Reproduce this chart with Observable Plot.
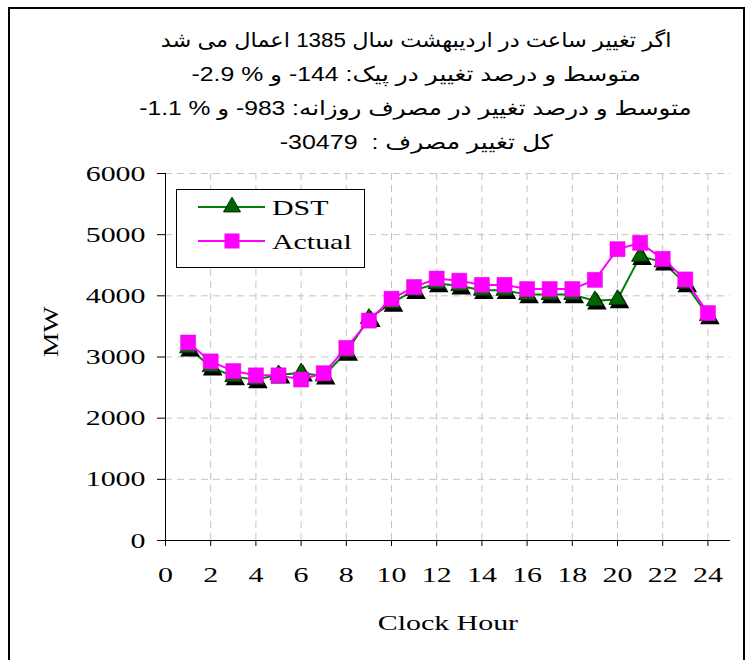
<!DOCTYPE html>
<html><head><meta charset="utf-8">
<script src="https://cdn.jsdelivr.net/npm/d3@7"></script>
<script src="https://cdn.jsdelivr.net/npm/@observablehq/plot@0.6"></script>
<style>
body{margin:0;background:#fff;}
#wrap{position:relative;width:751px;height:660px;overflow:hidden;background:#fff;}
#frame{position:absolute;left:8px;top:7px;width:737px;height:720px;border:2px solid #000;box-sizing:border-box;}
#title{position:absolute;left:116px;width:600px;top:23px;text-align:center;font-family:"Liberation Sans","DejaVu Sans",sans-serif;font-size:20px;line-height:34px;color:#000;}
#title span{display:inline-block;white-space:pre;}
#chart{position:absolute;left:0;top:160px;}
#legend{position:absolute;left:176px;top:189px;}
</style>
</head><body>
<div id="wrap">
  <div id="frame"></div>
  <div id="title"></div>
  <div id="chart"></div>
  <div id="legend"></div>
</div>
<script>
// ---- data ----
const titleLines = [
  "اگر تغییر ساعت در اردیبهشت سال 1385 اعمال می شد",
  "متوسط و درصد تغییر در پیک: 144- و % 2.9-",
  "متوسط و درصد تغییر در مصرف روزانه: 983- و % 1.1-",
  "کل تغییر مصرف :  30479-"
];
const hours = [1,2,3,4,5,6,7,8,9,10,11,12,13,14,15,16,17,18,19,20,21,22,23,24];
const dst = [3150,2840,2680,2630,2710,2740,2690,3080,3630,3880,4090,4200,4165,4090,4090,4020,4020,4020,3920,3940,4645,4555,4200,3675];
const actual = [3237,2928,2770,2700,2700,2632,2735,3148,3595,3952,4144,4282,4247,4179,4179,4110,4110,4110,4261,4763,4866,4605,4268,3718];
const xTicks = [0,2,4,6,8,10,12,14,16,18,20,22,24];
const yTicks = [0,1000,2000,3000,4000,5000,6000];
const seriesNames = ["DST", "Actual"];
const xLabel = "Clock Hour";
const yLabel = "MW";

// ---- title (the reference's text is drawn horizontally wide) ----
const titleStretch = [1.12, 1.24, 1.23, 1.25];
const t = document.getElementById("title");
titleLines.forEach((s, i) => {
  const d = document.createElement("div");
  const sp = document.createElement("span");
  sp.setAttribute("dir", "rtl");
  sp.textContent = s;
  sp.style.transform = `scaleX(${titleStretch[i]})`;
  d.appendChild(sp);
  t.appendChild(d);
});

const rows = hours.map((h, i) => ({h, dst: dst[i], actual: actual[i]}));
const green = "#008000", magenta = "#FF00FF";
const gridColor = "#c4c4c4";

const chart = Plot.plot({
  width: 751, height: 500,
  marginTop: 13, marginBottom: 120, marginLeft: 165, marginRight: 21,
  style: {fontFamily: "'Liberation Serif', 'Times New Roman', serif", fontSize: "22px", color: "#000", background: "transparent", overflow: "visible"},
  x: {domain: [0, 25], ticks: xTicks, tickSize: 6, tickPadding: 20, label: null, tickFormat: d => String(d)},
  y: {domain: [0, 6000], ticks: yTicks, tickSize: 8, tickPadding: 12, label: null, tickFormat: d => String(d)},
  marks: [
    Plot.ruleY(yTicks.slice(1), {x1: 0, x2: 25, stroke: gridColor, strokeWidth: 1, strokeDasharray: "7,5"}),
    Plot.ruleX(xTicks.slice(1), {y1: 0, y2: 6000, stroke: gridColor, strokeWidth: 1, strokeDasharray: "7,5"}),
    Plot.ruleY([0], {x1: -0.35, x2: 25, stroke: "#000", strokeWidth: 1}),
    Plot.ruleX([0], {y1: -80, y2: 6000, stroke: "#000", strokeWidth: 1}),
    Plot.line(rows, {x: "h", y: "dst", stroke: green, strokeWidth: 2}),
    Plot.dot(rows, {x: "h", y: "dst", symbol: "triangle", r: 6.3, fill: "#000", stroke: "#000", dx: 2, dy: 3}),
    Plot.dot(rows, {x: "h", y: "dst", symbol: "triangle", r: 6.3, fill: "#006400", stroke: "#003000", strokeWidth: 1}),
    Plot.line(rows, {x: "h", y: "actual", stroke: magenta, strokeWidth: 2}),
    Plot.dot(rows, {x: "h", y: "actual", symbol: "square", r: 8.5, fill: magenta, stroke: "#e000e0", strokeWidth: 0.5}),
    Plot.text([xLabel], {text: d => d, frameAnchor: "bottom", dy: 82, lineAnchor: "middle", fontSize: 22}),
    Plot.text([yLabel], {text: d => d, frameAnchor: "left", dx: -115, rotate: -90, lineAnchor: "middle", fontSize: 22})
  ]
});
document.getElementById("chart").appendChild(chart);

// stretch text horizontally about its anchor, as in the reference
function stretch(root, fn) {
  root.querySelectorAll("text").forEach(el => {
    const s = fn(el);
    const bb = el.getBBox();
    const anchor = getComputedStyle(el).textAnchor;
    const ax = anchor === "end" ? bb.x + bb.width : anchor === "middle" ? bb.x + bb.width / 2 : bb.x;
    const old = el.getAttribute("transform") || "";
    el.setAttribute("transform", `${old} translate(${ax},0) scale(${s},1) translate(${-ax},0)`);
  });
}
stretch(chart, el => el.textContent === yLabel ? 1.25 : 1.36);

// ---- legend ----
const ns = "http://www.w3.org/2000/svg";
const lg = document.createElementNS(ns, "svg");
lg.setAttribute("width", 189); lg.setAttribute("height", 79);
lg.style.display = "block";
const mk = (tag, attrs, text) => { const e = document.createElementNS(ns, tag); for (const k in attrs) e.setAttribute(k, attrs[k]); if (text) e.textContent = text; lg.appendChild(e); return e; };
mk("rect", {x: 0.5, y: 0.5, width: 188, height: 78, fill: "#fff", stroke: "#000", "stroke-width": 1});
const ly = [18, 52];
const tri = (cx, cy, s) => { const h = s * Math.sqrt(3) / 2; return `M${cx},${cy - h * 2 / 3}L${cx + s / 2},${cy + h / 3}L${cx - s / 2},${cy + h / 3}Z`; };
mk("line", {x1: 22, x2: 89, y1: ly[0], y2: ly[0], stroke: green, "stroke-width": 2});
mk("path", {d: tri(56, ly[0], 17), fill: "#006400", stroke: "#003000"});
mk("line", {x1: 22, x2: 89, y1: ly[1], y2: ly[1], stroke: magenta, "stroke-width": 2});
mk("rect", {x: 48.5, y: ly[1] - 7.5, width: 15, height: 15, fill: magenta});
seriesNames.forEach((n, i) => mk("text", {x: 96, y: ly[i], dy: "0.35em", "font-family": "'Liberation Serif', serif", "font-size": 22}, n));
document.getElementById("legend").appendChild(lg);
stretch(lg, () => 1.36);
</script>
</body></html>
